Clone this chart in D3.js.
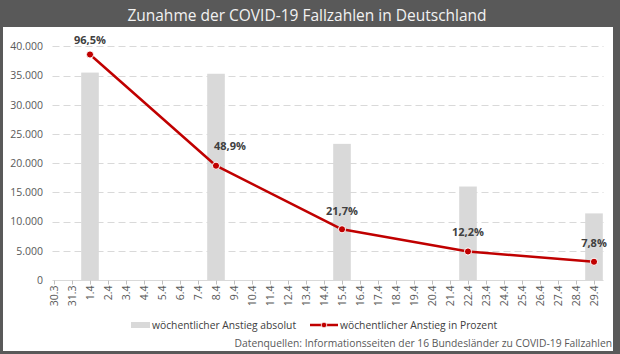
<!DOCTYPE html>
<html>
<head>
<meta charset="utf-8">
<script src="https://cdn.jsdelivr.net/npm/d3@7"></script>
<style>
  html, body { margin: 0; padding: 0; background: #fff; }
  svg { display: block; }
  text { font-family: "Open Sans", "Noto Sans", sans-serif; }
</style>
</head>
<body>
<svg id="chart" width="620" height="354"></svg>
<script>
// ---- data ----
const dates = ["30.3","31.3","1.4","2.4","3.4","4.4","5.4","6.4","7.4","8.4","9.4","10.4","11.4","12.4","13.4","14.4","15.4","16.4","17.4","18.4","19.4","20.4","21.4","22.4","23.4","24.4","25.4","26.4","27.4","28.4","29.4"];
const weekDates = ["1.4","8.4","15.4","22.4","29.4"];
const absoluteIncrease = [35500, 35300, 23300, 16000, 11400];
const percentIncrease = [0.965, 0.489, 0.217, 0.122, 0.078];
const percentLabels = ["96,5%","48,9%","21,7%","12,2%","7,8%"];
const yTicks = [0, 5000, 10000, 15000, 20000, 25000, 30000, 35000, 40000];
const titleText = "Zunahme der COVID-19 Fallzahlen in Deutschland";
const legendLabels = ["wöchentlicher Anstieg absolut", "wöchentlicher Anstieg in Prozent"];
const sourceText = "Datenquellen: Informationsseiten der 16 Bundesländer zu COVID-19 Fallzahlen";

// label nudges (layout only)
const labelShift = [[0, -10], [14, -16], [0, -14], [0, -15], [0, -15]];

const svg = d3.select("#chart");
const W = 620, H = 354;

// frame
svg.append("rect").attr("x", 0).attr("y", 0).attr("width", W).attr("height", H).attr("fill", "#595959");
svg.append("rect").attr("x", 3).attr("y", 27).attr("width", 610).attr("height", 324).attr("fill", "#ffffff");

svg.append("text").attr("x", 307).attr("y", 20.5).attr("text-anchor", "middle")
  .attr("font-size", 15.5).attr("fill", "#f2f2f2").text(titleText);

// scales
const plotL = 52.5, plotR = 603.5;
const x = d3.scalePoint().domain(dates).range([54, 594]);
const y = d3.scaleLinear().domain([0, 40000]).range([280, 46.3]);
const y2 = d3.scaleLinear().domain([0, 1]).range([280, 46.3]);
const fmt = d3.formatLocale({decimal: ",", thousands: ".", grouping: [3], currency: ["", "€"]}).format(",.0f");

// gridlines
svg.append("g").selectAll("line").data(yTicks.filter(d => d > 0)).join("line")
  .attr("x1", plotL).attr("x2", plotR)
  .attr("y1", d => Math.round(y(d)) + 0.5).attr("y2", d => Math.round(y(d)) + 0.5)
  .attr("stroke", "#d9d9d9").attr("stroke-width", 1).attr("stroke-dasharray", "7,4");

// y axis labels
const yAxis = d3.axisLeft(y).tickValues(yTicks).tickFormat(fmt).tickSize(0).tickPadding(0);
const gy = svg.append("g").attr("transform", "translate(43,0)").call(yAxis);
gy.select(".domain").remove();
gy.selectAll("text").attr("font-size", 10.5).attr("fill", "#595959")
  .style("font-family", "'Open Sans', sans-serif");

// bars
const bw = 17.6;
svg.append("g").selectAll("rect").data(weekDates).join("rect")
  .attr("x", d => x(d) - bw / 2)
  .attr("y", (d, i) => y(absoluteIncrease[i]))
  .attr("width", bw)
  .attr("height", (d, i) => y(0) - y(absoluteIncrease[i]))
  .attr("fill", "#d9d9d9");

// x axis
const xAxis = d3.axisBottom(x).tickSize(4).tickPadding(3);
const gx = svg.append("g").attr("transform", "translate(0,280.5)").call(xAxis);
gx.select(".domain").attr("d", `M${plotL},0H${plotR}`).attr("stroke", "#d9d9d9");
gx.selectAll(".tick line").attr("stroke", "#bfbfbf");
gx.selectAll(".tick text")
  .attr("font-size", 10.5).attr("fill", "#595959")
  .attr("transform", "rotate(-90)")
  .attr("text-anchor", "end")
  .attr("x", -5).attr("y", 0).attr("dy", "0.35em")
  .style("font-family", "'Open Sans', sans-serif");

// line
const pts = weekDates.map((d, i) => [x(d), y2(percentIncrease[i])]);
svg.append("path").datum(pts)
  .attr("d", d3.line())
  .attr("fill", "none").attr("stroke", "#c00000").attr("stroke-width", 2.5)
  .attr("stroke-linejoin", "round");
svg.append("g").selectAll("circle").data(pts).join("circle")
  .attr("cx", d => d[0]).attr("cy", d => d[1]).attr("r", 3.6)
  .attr("fill", "#c00000").attr("stroke", "#ffffff").attr("stroke-width", 1);

// data labels
svg.append("g").selectAll("text").data(pts).join("text")
  .attr("x", (d, i) => d[0] + labelShift[i][0])
  .attr("y", (d, i) => d[1] + labelShift[i][1])
  .attr("text-anchor", "middle")
  .attr("font-size", 11).attr("font-weight", "bold").attr("fill", "#404040")
  .text((d, i) => percentLabels[i]);

// legend
const lg = svg.append("g");
lg.append("rect").attr("x", 131).attr("y", 322).attr("width", 19).attr("height", 6).attr("fill", "#d9d9d9");
lg.append("text").attr("x", 152).attr("y", 328.5).attr("font-size", 10.3).attr("fill", "#404040").text(legendLabels[0]);
lg.append("line").attr("x1", 310).attr("x2", 338).attr("y1", 325).attr("y2", 325)
  .attr("stroke", "#c00000").attr("stroke-width", 2.5);
lg.append("circle").attr("cx", 324).attr("cy", 325).attr("r", 2.8)
  .attr("fill", "#c00000").attr("stroke", "#fff").attr("stroke-width", 0.8);
lg.append("text").attr("x", 340).attr("y", 328.5).attr("font-size", 10.3).attr("fill", "#404040").text(legendLabels[1]);

// source
svg.append("text").attr("x", 612).attr("y", 347).attr("text-anchor", "end")
  .attr("font-size", 10.3).attr("fill", "#595959").text(sourceText);
</script>
</body>
</html>
